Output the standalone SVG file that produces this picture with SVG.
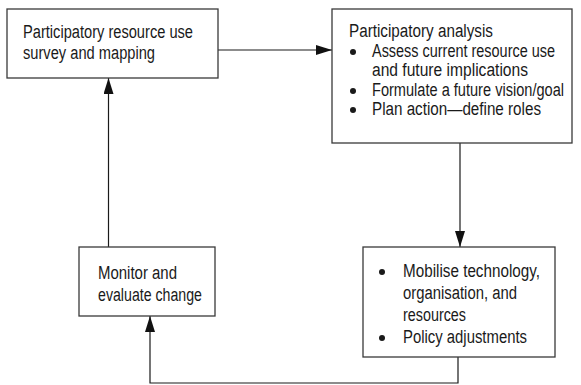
<svg xmlns="http://www.w3.org/2000/svg" width="581" height="385" viewBox="0 0 581 385">
<style>
.box{fill:#fff;stroke:#3a3a3a;stroke-width:1.3}
.t{font-family:"Liberation Sans",Arial,sans-serif;font-size:18px;fill:#1a1a1a}
.c{fill:none;stroke:#1a1a1a;stroke-width:1.2}
.b{fill:#1a1a1a}
</style>
<defs>
<marker id="ah" viewBox="0 0 16 10" refX="16" refY="5" markerWidth="16" markerHeight="10" markerUnits="userSpaceOnUse" orient="auto">
<path d="M0,0 L16,5 L0,10 Z" fill="#111"/>
</marker>
</defs>
<rect width="581" height="385" fill="#fff"/>
<g id="connectors">
<line class="c" x1="218" y1="50" x2="332" y2="50" marker-end="url(#ah)"/>
<line class="c" x1="460" y1="143" x2="460" y2="247" marker-end="url(#ah)"/>
<polyline class="c" points="458,357 458,383 150,383 150,316" marker-end="url(#ah)"/>
<line class="c" x1="108.5" y1="247" x2="108.5" y2="78" marker-end="url(#ah)"/>
</g>
<g id="node-survey">
<rect class="box" x="7" y="9" width="211" height="69"/>
<text class="t" x="23" y="38" textLength="170" lengthAdjust="spacingAndGlyphs">Participatory resource use</text>
<text class="t" x="23" y="59" textLength="132" lengthAdjust="spacingAndGlyphs">survey and mapping</text>
</g>
<g id="node-analysis">
<rect class="box" x="332" y="9" width="240" height="134"/>
<text class="t" x="349" y="37" textLength="144" lengthAdjust="spacingAndGlyphs">Participatory analysis</text>
<circle class="b" cx="353" cy="52" r="3"/>
<text class="t" x="372" y="57" textLength="183" lengthAdjust="spacingAndGlyphs">Assess current resource use</text>
<text class="t" x="372" y="76" textLength="156" lengthAdjust="spacingAndGlyphs">and future implications</text>
<circle class="b" cx="353" cy="91" r="3"/>
<text class="t" x="372" y="96" textLength="192" lengthAdjust="spacingAndGlyphs">Formulate a future vision/goal</text>
<circle class="b" cx="353" cy="110" r="3"/>
<text class="t" x="372" y="115" textLength="169" lengthAdjust="spacingAndGlyphs">Plan action—define roles</text>
</g>
<g id="node-mobilise">
<rect class="box" x="363" y="247" width="192" height="110"/>
<circle class="b" cx="382" cy="272" r="3"/>
<text class="t" x="403" y="277" textLength="137" lengthAdjust="spacingAndGlyphs">Mobilise technology,</text>
<text class="t" x="403" y="299" textLength="114" lengthAdjust="spacingAndGlyphs">organisation, and</text>
<text class="t" x="403" y="321" textLength="63" lengthAdjust="spacingAndGlyphs">resources</text>
<circle class="b" cx="382" cy="338" r="3"/>
<text class="t" x="403" y="343" textLength="124" lengthAdjust="spacingAndGlyphs">Policy adjustments</text>
</g>
<g id="node-monitor">
<rect class="box" x="79" y="247" width="136" height="69"/>
<text class="t" x="98" y="279" textLength="79" lengthAdjust="spacingAndGlyphs">Monitor and</text>
<text class="t" x="98" y="301" textLength="104" lengthAdjust="spacingAndGlyphs">evaluate change</text>
</g>
</svg>
